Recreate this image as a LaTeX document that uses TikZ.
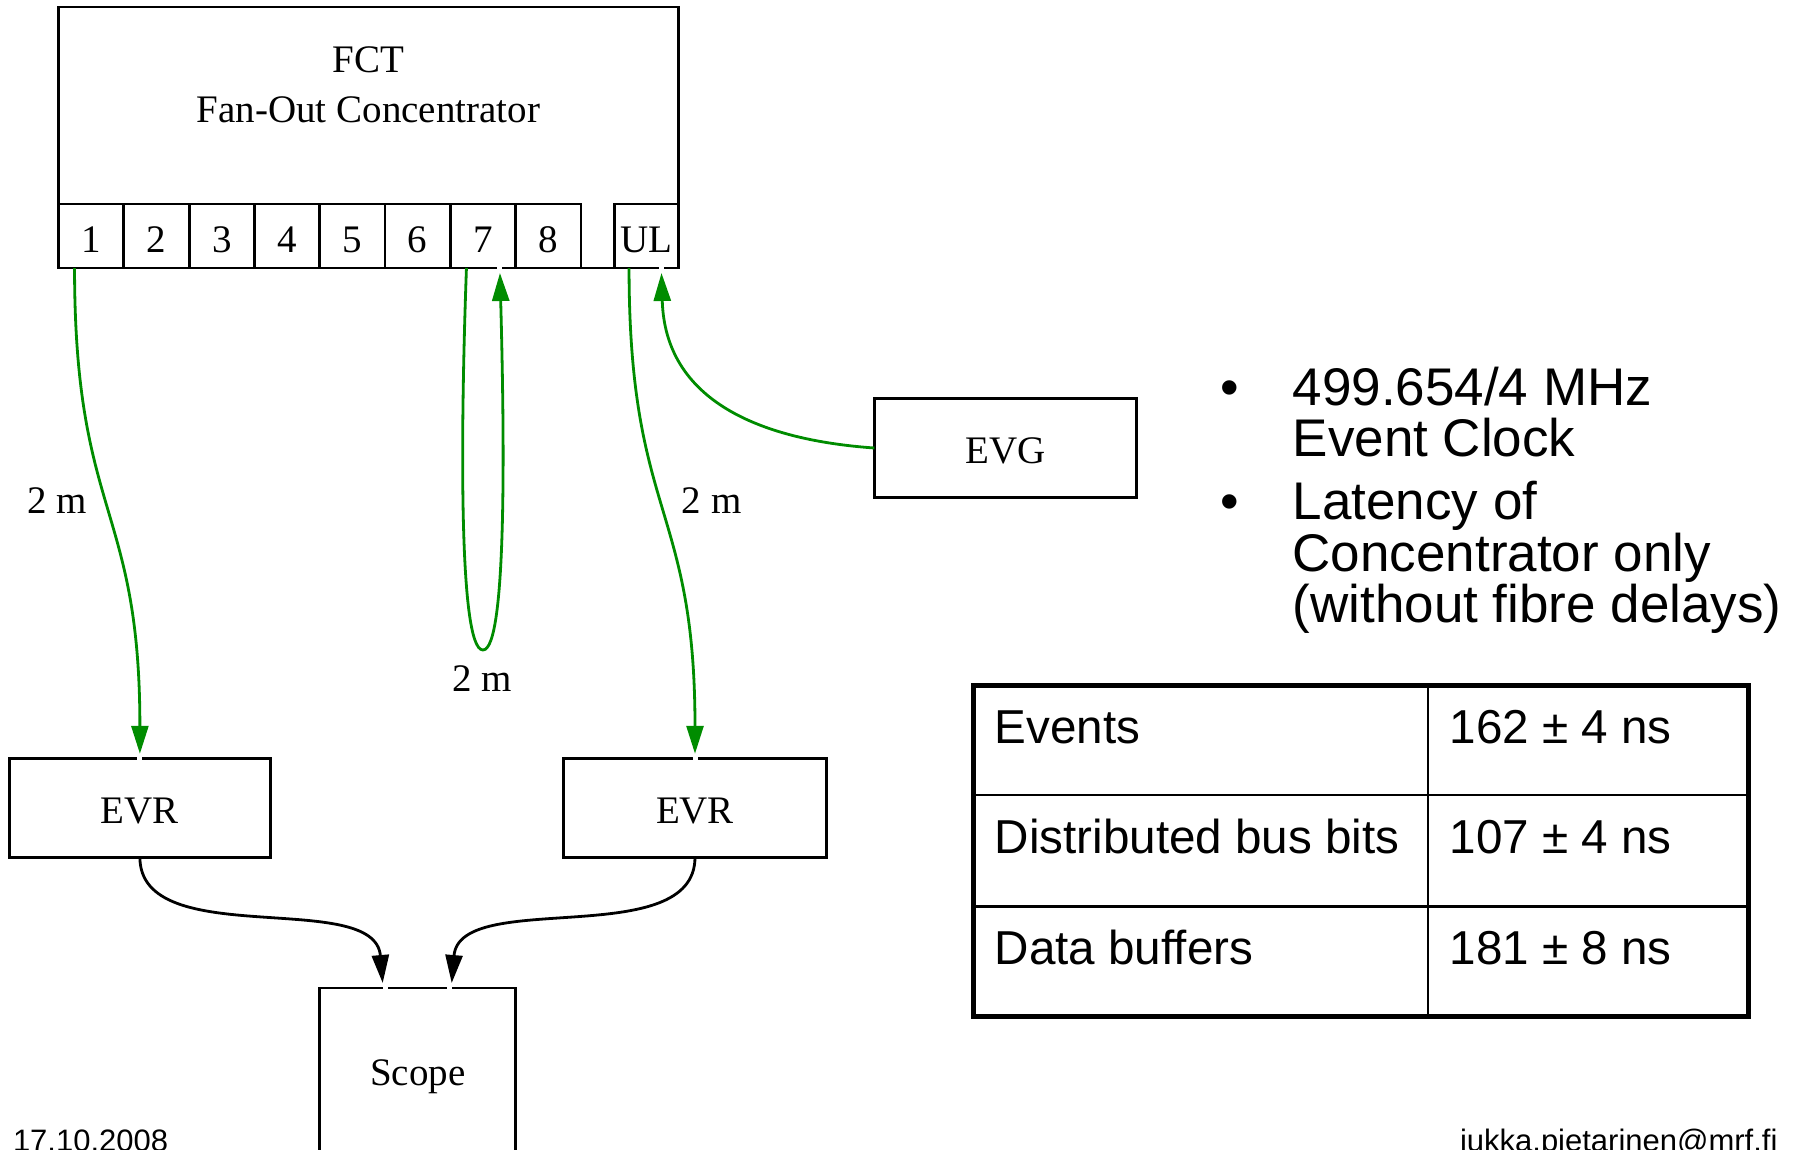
\documentclass[tikz,border=0pt]{standalone}
\usepackage{fontspec}
\setmainfont{Liberation Serif}
\newfontfamily\arialfont{Liberation Sans}
\usetikzlibrary{arrows.meta,calc}

\definecolor{fibre}{RGB}{0,140,0}

\begin{document}
\begin{tikzpicture}[x=1pt,y=-1pt,
  every node/.style={inner sep=0pt, outer sep=0pt},
  lbl/.style={font=\fontsize{39}{47}\selectfont},
  unit/.style={draw, line width=2.8pt, font=\fontsize{39}{47}\selectfont,
    text height=30.6pt, text depth=0pt},
  port/.style={draw, line width=2.8pt, minimum height=64pt,
    font=\fontsize{39}{47}\selectfont, text height=32.6pt, text depth=0pt},
  fibrelink/.style={draw=fibre, line width=2.8pt,
    -{Triangle[length=28pt,width=17pt]}},
  wirelink/.style={draw=black, line width=2.8pt,
    -{Triangle[length=28pt,width=17pt]}},
  notch/.style={draw=white, line width=4pt},
  bullettext/.style={font=\arialfont\fontsize{53}{52}\selectfont},
  celltext/.style={font=\arialfont\fontsize{47.6}{52}\selectfont, anchor=base west},
  foot/.style={font=\arialfont\fontsize{31}{36}\selectfont},
]
\useasboundingbox (0,0) rectangle (1797,1149);

% Fan-out concentrator with its port row
\node[draw, line width=2.8pt, minimum width=620pt, minimum height=261pt] (fct) at (368.5,137.5) {};
\node[lbl, anchor=base] (fctname) at (368.5,72.5) {FCT};
\node[lbl, anchor=base] (fctdesc) at (368.5,122) {Fan-Out Concentrator};
\foreach \i in {1,...,8}
  \node[port, minimum width=65.3pt] (p\i) at ({58.5+65.3*(\i-0.5)},236) {\i};
\node[port, minimum width=64.1pt] (pul) at (646.4,236) {UL};

% Units
\node[unit, minimum width=262.4pt, minimum height=98.6pt] (evg) at (1005.6,448) {EVG};
\node[unit, minimum width=261.3pt, minimum height=98.5pt] (evrl) at (139.9,808) {EVR};
\node[unit, minimum width=262.5pt, minimum height=98.5pt] (evrr) at (695,808) {EVR};
\node[unit, minimum width=196pt, minimum height=163.4pt] (scope) at (417.7,1069.7) {Scope};

% Fibre links
\draw[fibrelink] ($(p1.south)+(-16.6,0)$) .. controls +(0,250) and +(0,-250) .. ($(evrl.north)+(0,-5)$);
\draw[fibrelink] ($(pul.south west)+(14.7,0)$) .. controls +(0,250) and +(0,-250) .. ($(evrr.north)+(0,-5)$);
\draw[fibrelink] ($(p7.south)+(-16.5,0)$) .. controls +(-5.5,152) and +(-25,0) ..
  ($(p7.south)+(0,382)$) .. controls +(25,0) and +(4,148) .. ($(p7.south)+(17,5)$);
\draw[fibrelink] (evg.west) .. controls +(-114,-8) and +(3.5,128) .. ($(pul.south)+(15.1,5)$);

% Receiver outputs into the scope
\draw[wirelink] (evrl.south) .. controls +(0,95) and +(-8,-95) .. ($(scope.north)+(-35,-5)$);
\draw[wirelink] (evrr.south) .. controls +(0,95) and +(8,-95) .. ($(scope.north)+(34,-5)$);

% Small breaks in the borders where the arrows arrive
\draw[notch] ($(p7.south)+(17,0)$) ++(-2.5,0) -- ++(5,0);
\draw[notch] ($(pul.south)+(15.1,0)$) ++(-2.5,0) -- ++(5,0);
\draw[notch] (evrl.north) ++(-2.5,0) -- ++(5,0);
\draw[notch] (evrr.north) ++(-2.5,0) -- ++(5,0);
\draw[notch] ($(scope.north)+(-32.5,0)$) ++(-2.5,0) -- ++(5,0);
\draw[notch] ($(scope.north)+(32,0)$) ++(-2.5,0) -- ++(5,0);

% Cable lengths
\node[lbl, anchor=base] (len1) at (57.3,513.3) {2 m};
\node[lbl, anchor=base] (len2) at (711.7,513.3) {2 m};
\node[lbl, anchor=base] (len3) at (482.5,691.7) {2 m};

% Notes
\node[bullettext, anchor=base] (dot1) at (1229.7,405) {•};
\node[bullettext, anchor=base west] (n1a) at (1292.7,405) {499.654/4 MHz};
\node[bullettext, anchor=base west] (n1b) at (1292.7,456.7) {Event Clock};
\node[bullettext, anchor=base] (dot2) at (1229.7,519.7) {•};
\node[bullettext, anchor=base west] (n2a) at (1292.7,519.7) {Latency of};
\node[bullettext, anchor=base west] (n2b) at (1292.7,571.3) {Concentrator only};
\node[bullettext, anchor=base west] (n2c) at (1292.7,622.9) {(without fibre delays)};

% Latency table
\draw[line width=2.2pt] (1427.9,685.3) -- (1427.9,1016.5);
\draw[line width=2.2pt] (973,795.3) -- (1748.8,795.3);
\draw[line width=2.2pt] (973,906.5) -- (1748.8,906.5);
\node[draw, line width=5pt, minimum width=775.8pt, minimum height=331.2pt] (latency) at (1360.9,850.9) {};
\node[celltext] (t1a) at (994.7,743.7) {Events};
\node[celltext] (t1b) at (1449.7,743.7) {162 ± 4 ns};
\node[celltext] (t2a) at (994.7,853.8) {Distributed bus bits};
\node[celltext] (t2b) at (1449.7,853.8) {107 ± 4 ns};
\node[celltext] (t3a) at (994.7,964.9) {Data buffers};
\node[celltext] (t3b) at (1449.7,964.9) {181 ± 8 ns};

% Footer
\node[foot, anchor=base west] (date) at (13,1151) {17.10.2008};
\node[foot, anchor=base east] (mail) at (1777.5,1151) {jukka.pietarinen@mrf.fi};
\end{tikzpicture}
\end{document}
